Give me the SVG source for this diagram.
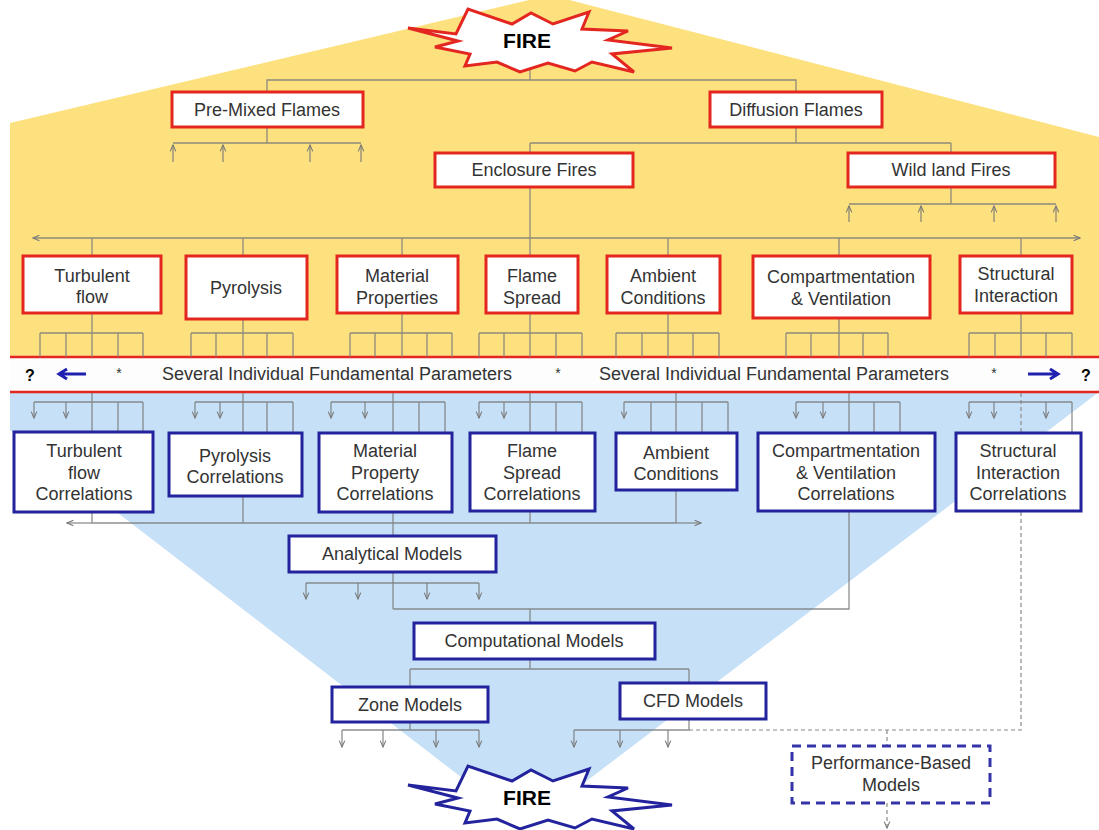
<svg xmlns="http://www.w3.org/2000/svg" width="1099" height="830" viewBox="0 0 1099 830">
<defs>
<style>
.t{font-family:"Liberation Sans",Arial,sans-serif;font-size:18px;fill:#333;text-anchor:middle}
.rb{fill:#fff;stroke:#e3261f;stroke-width:3}
.bb{fill:#fff;stroke:#23239e;stroke-width:3}
.c{fill:none;stroke:#7a7a7a;stroke-opacity:0.85;stroke-width:1.3}
.d{fill:none;stroke:#8a8a8a;stroke-width:1.2;stroke-dasharray:4 3}
.fire{font-family:"Liberation Sans",Arial,sans-serif;font-size:21px;font-weight:bold;fill:#000;text-anchor:middle}
</style>
<marker id="ah" viewBox="0 0 10 10" refX="9" refY="5" markerWidth="8" markerHeight="8" orient="auto" markerUnits="userSpaceOnUse">
<path d="M1,1.5 L9,5 L1,8.5" fill="none" stroke="#7a7a7a" stroke-width="1.4"/>
</marker>
<polygon id="star" points="408,28 456,34 468,9 512,24 531,13 553,24 589,12 582,29 628,31 608,40 672,48 612,54 634,72 592,62 575,71 548,63 520,72 497,62 465,66 470,54 435,47 458,41"/>
</defs>

<g id="background">
<rect x="0" y="0" width="1099" height="830" fill="#fff"/>
<polygon points="10,123 550,-5 1099,137 1099,357 10,357" fill="#fde17f"/>
<polygon points="10,392 1099,392 526,827 10,430" fill="#c6e0f7"/>
<rect x="10" y="357" width="1089" height="35" fill="#fdfdfd"/>
<line x1="10" y1="357" x2="1099" y2="357" stroke="#e3261f" stroke-width="2.5"/>
<line x1="10" y1="392" x2="1099" y2="392" stroke="#e3261f" stroke-width="2.5"/>
</g>

<g id="band">
<text x="30" y="381" font-family="Liberation Sans,Arial,sans-serif" font-size="16" font-weight="bold" text-anchor="middle">?</text>
<path d="M86,374 H59 M67,369 L59,374 L67,379" fill="none" stroke="#2020b0" stroke-width="3"/>
<text x="119" y="378" font-family="Liberation Sans,Arial,sans-serif" font-size="14" text-anchor="middle" fill="#333">*</text>
<text class="t" x="337" y="380">Several Individual Fundamental Parameters</text>
<text x="558" y="378" font-family="Liberation Sans,Arial,sans-serif" font-size="14" text-anchor="middle" fill="#333">*</text>
<text class="t" x="774" y="380">Several Individual Fundamental Parameters</text>
<text x="994" y="378" font-family="Liberation Sans,Arial,sans-serif" font-size="14" text-anchor="middle" fill="#333">*</text>
<path d="M1028,374 H1058 M1050,369 L1058,374 L1050,379" fill="none" stroke="#2020b0" stroke-width="3"/>
<text x="1086" y="381" font-family="Liberation Sans,Arial,sans-serif" font-size="16" font-weight="bold" text-anchor="middle">?</text>
</g>

<g id="connectors">
<!-- top level -->
<path class="c" d="M530,68 V80 M267,92 V80 H796 V92"/>
<path class="c" d="M267,127 V143 M173,143 H361"/>
<path class="c" marker-end="url(#ah)" d="M173,162 V145"/>
<path class="c" marker-end="url(#ah)" d="M223,162 V145"/>
<path class="c" marker-end="url(#ah)" d="M310,162 V145"/>
<path class="c" marker-end="url(#ah)" d="M361,162 V145"/>
<path class="c" d="M796,127 V143 M530,143 H951 M530,143 V153 M951,143 V153"/>
<path class="c" d="M951,187 V204 M849,204 H1056"/>
<path class="c" marker-end="url(#ah)" d="M849,222 V206"/>
<path class="c" marker-end="url(#ah)" d="M921,222 V206"/>
<path class="c" marker-end="url(#ah)" d="M994,222 V206"/>
<path class="c" marker-end="url(#ah)" d="M1056,222 V206"/>
<path class="c" d="M530,187 V256 M92,238 H1021 M92,238 V256 M243,238 V256 M402,238 V256 M668,238 V256 M839,238 V256 M1021,238 V256"/>
<path class="c" marker-end="url(#ah)" d="M92,238 H33"/>
<path class="c" marker-end="url(#ah)" d="M1021,238 H1080"/>
<!-- combs above band -->
<path class="c" d="M92,313 V333 M40,333 H143 M40,333 V357 M66,333 V357 M92,333 V357 M118,333 V357 M143,333 V357"/>
<path class="c" d="M243,319 V333 M191,333 H293 M191,333 V357 M216,333 V357 M243,333 V357 M267,333 V357 M293,333 V357"/>
<path class="c" d="M402,313 V333 M350,333 H452 M350,333 V357 M375,333 V357 M402,333 V357 M427,333 V357 M452,333 V357"/>
<path class="c" d="M530,313 V333 M479,333 H582 M479,333 V357 M504,333 V357 M530,333 V357 M556,333 V357 M582,333 V357"/>
<path class="c" d="M668,313 V333 M616,333 H719 M616,333 V357 M642,333 V357 M668,333 V357 M693,333 V357 M719,333 V357"/>
<path class="c" d="M839,318 V333 M786,333 H888 M786,333 V357 M811,333 V357 M839,333 V357 M863,333 V357 M888,333 V357"/>
<path class="c" d="M1021,313 V333 M969,333 H1072 M969,333 V357 M995,333 V357 M1021,333 V357 M1046,333 V357 M1072,333 V357"/>
<!-- combs below band -->
<path class="c" d="M92,393 V432 M34,402 H143 M118,402 V432 M143,402 V432"/>
<path class="c" marker-end="url(#ah)" d="M34,402 V418"/>
<path class="c" marker-end="url(#ah)" d="M66,402 V418"/>
<path class="c" d="M243,393 V433 M195,402 H293 M267,402 V433 M293,402 V433"/>
<path class="c" marker-end="url(#ah)" d="M195,402 V418"/>
<path class="c" marker-end="url(#ah)" d="M220,402 V418"/>
<path class="c" d="M393,393 V433 M331,402 H445 M419,402 V433 M445,402 V433"/>
<path class="c" marker-end="url(#ah)" d="M331,402 V418"/>
<path class="c" marker-end="url(#ah)" d="M365,402 V418"/>
<path class="c" d="M530,393 V433 M479,402 H582 M556,402 V433 M582,402 V433"/>
<path class="c" marker-end="url(#ah)" d="M479,402 V418"/>
<path class="c" marker-end="url(#ah)" d="M504,402 V418"/>
<path class="c" d="M676,393 V433 M624,402 H728 M651,402 V433 M702,402 V433 M728,402 V433"/>
<path class="c" marker-end="url(#ah)" d="M624,402 V418"/>
<path class="c" d="M849,393 V433 M796,402 H900 M874,402 V433 M900,402 V433"/>
<path class="c" marker-end="url(#ah)" d="M796,402 V418"/>
<path class="c" marker-end="url(#ah)" d="M823,402 V418"/>
<path class="c" d="M969,402 H1072 M1072,402 V433"/>
<path class="c" marker-end="url(#ah)" d="M969,402 V418"/>
<path class="c" marker-end="url(#ah)" d="M994,402 V418"/>
<path class="c" marker-end="url(#ah)" d="M1046,402 V418"/>
<path class="d" d="M1021,393 V730 H689"/>
<!-- under correlations -->
<path class="c" d="M92,512 V523 M243,496 V523 M393,512 V536 M530,511 V523 M676,490 V523 M92,523 H676"/>
<path class="c" marker-end="url(#ah)" d="M92,523 H67"/>
<path class="c" marker-end="url(#ah)" d="M676,523 H701"/>
<path class="c" d="M849,511 V609 H393 M393,572 V609 M530,609 V623"/>
<path class="c" d="M306,583 H479"/>
<path class="c" marker-end="url(#ah)" d="M306,583 V599"/>
<path class="c" marker-end="url(#ah)" d="M358,583 V599"/>
<path class="c" marker-end="url(#ah)" d="M427,583 V599"/>
<path class="c" marker-end="url(#ah)" d="M479,583 V599"/>
<path class="c" d="M530,659 V669 M410,669 H689 M410,669 V687 M689,669 V683"/>
<path class="c" d="M410,722 V730 M342,730 H479"/>
<path class="c" marker-end="url(#ah)" d="M342,730 V747"/>
<path class="c" marker-end="url(#ah)" d="M383,730 V747"/>
<path class="c" marker-end="url(#ah)" d="M436,730 V747"/>
<path class="c" marker-end="url(#ah)" d="M479,730 V747"/>
<path class="c" d="M689,719 V730 H574"/>
<path class="c" marker-end="url(#ah)" d="M574,730 V747"/>
<path class="c" marker-end="url(#ah)" d="M620,730 V747"/>
<path class="c" marker-end="url(#ah)" d="M668,730 V747"/>
<path class="d" d="M887,730 V746"/>
<path class="d" marker-end="url(#ah)" d="M887,803 V828"/>
</g>

<g id="fire-top">
<use href="#star" fill="#fff" stroke="#e3261f" stroke-width="3" stroke-linejoin="miter"/>
<text class="fire" x="527" y="48">FIRE</text>
</g>
<g id="fire-bottom">
<use href="#star" transform="translate(0,757)" fill="#fff" stroke="#23239e" stroke-width="3"/>
<text class="fire" x="527" y="805">FIRE</text>
</g>

<g id="premixed"><rect class="rb" x="172" y="92" width="191" height="35"/><text class="t" x="267" y="116">Pre-Mixed Flames</text></g>
<g id="diffusion"><rect class="rb" x="710" y="92" width="172" height="35"/><text class="t" x="796" y="116">Diffusion Flames</text></g>
<g id="enclosure"><rect class="rb" x="435" y="153" width="198" height="34"/><text class="t" x="534" y="176">Enclosure Fires</text></g>
<g id="wildland"><rect class="rb" x="848" y="153" width="207" height="34"/><text class="t" x="951" y="176">Wild land Fires</text></g>

<g id="turbulent"><rect class="rb" x="23" y="256" width="138" height="57"/><text class="t" x="92" y="282">Turbulent</text><text class="t" x="92" y="303">flow</text></g>
<g id="pyrolysis"><rect class="rb" x="186" y="256" width="121" height="63"/><text class="t" x="246" y="294">Pyrolysis</text></g>
<g id="material"><rect class="rb" x="337" y="256" width="121" height="57"/><text class="t" x="397" y="282">Material</text><text class="t" x="397" y="304">Properties</text></g>
<g id="flamespread"><rect class="rb" x="486" y="256" width="92" height="57"/><text class="t" x="532" y="282">Flame</text><text class="t" x="532" y="304">Spread</text></g>
<g id="ambient"><rect class="rb" x="607" y="256" width="113" height="57"/><text class="t" x="663" y="282">Ambient</text><text class="t" x="663" y="304">Conditions</text></g>
<g id="compartment"><rect class="rb" x="753" y="256" width="177" height="62"/><text class="t" x="841" y="283">Compartmentation</text><text class="t" x="841" y="305">&amp; Ventilation</text></g>
<g id="structural"><rect class="rb" x="960" y="256" width="112" height="57"/><text class="t" x="1016" y="280">Structural</text><text class="t" x="1016" y="302">Interaction</text></g>

<g id="turbulent-corr"><rect class="bb" x="14" y="432" width="139" height="80"/><text class="t" x="84" y="457">Turbulent</text><text class="t" x="84" y="479">flow</text><text class="t" x="84" y="500">Correlations</text></g>
<g id="pyrolysis-corr"><rect class="bb" x="169" y="433" width="133" height="63"/><text class="t" x="235" y="462">Pyrolysis</text><text class="t" x="235" y="483">Correlations</text></g>
<g id="material-corr"><rect class="bb" x="319" y="433" width="133" height="79"/><text class="t" x="385" y="457">Material</text><text class="t" x="385" y="479">Property</text><text class="t" x="385" y="500">Correlations</text></g>
<g id="flamespread-corr"><rect class="bb" x="470" y="433" width="125" height="78"/><text class="t" x="532" y="457">Flame</text><text class="t" x="532" y="479">Spread</text><text class="t" x="532" y="500">Correlations</text></g>
<g id="ambient-corr"><rect class="bb" x="616" y="433" width="121" height="57"/><text class="t" x="676" y="459">Ambient</text><text class="t" x="676" y="480">Conditions</text></g>
<g id="compartment-corr"><rect class="bb" x="758" y="433" width="177" height="78"/><text class="t" x="846" y="457">Compartmentation</text><text class="t" x="846" y="479">&amp; Ventilation</text><text class="t" x="846" y="500">Correlations</text></g>
<g id="structural-corr"><rect class="bb" x="956" y="433" width="125" height="78"/><text class="t" x="1018" y="457">Structural</text><text class="t" x="1018" y="479">Interaction</text><text class="t" x="1018" y="500">Correlations</text></g>

<g id="analytical"><rect class="bb" x="289" y="536" width="207" height="36"/><text class="t" x="392" y="560">Analytical Models</text></g>
<g id="computational"><rect class="bb" x="414" y="623" width="241" height="36"/><text class="t" x="534" y="647">Computational Models</text></g>
<g id="zone"><rect class="bb" x="332" y="687" width="156" height="35"/><text class="t" x="410" y="711">Zone Models</text></g>
<g id="cfd"><rect class="bb" x="620" y="683" width="146" height="36"/><text class="t" x="693" y="707">CFD Models</text></g>
<g id="performance"><rect x="792" y="746" width="198" height="57" fill="#fff" stroke="#3434a8" stroke-width="3" stroke-dasharray="9 6"/><text class="t" x="891" y="769">Performance-Based</text><text class="t" x="891" y="791">Models</text></g>
</svg>
